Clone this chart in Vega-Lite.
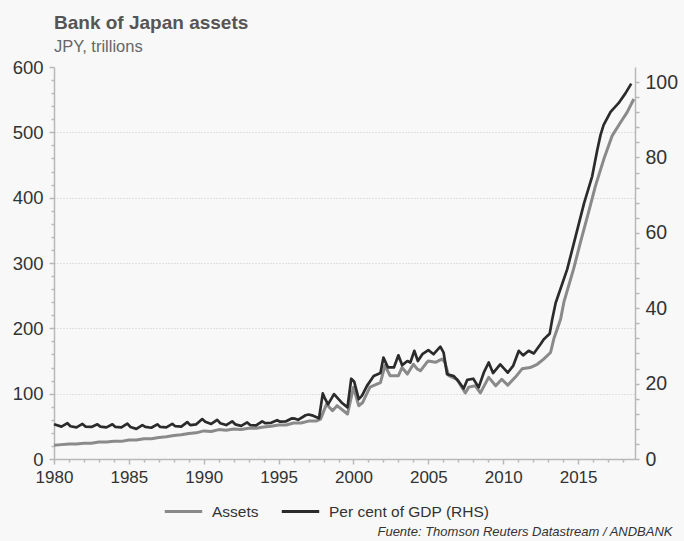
{
  "$schema": "https://vega.github.io/schema/vega-lite/v6.json",
  "width": 581,
  "height": 392,
  "autosize": {"type": "none"},
  "padding": {"left": 54, "top": 67, "right": 49, "bottom": 82},
  "background": "#f8f8f8",
  "title": {
    "text": "Bank of Japan assets",
    "subtitle": "JPY, trillions",
    "anchor": "start",
    "frame": "group",
    "offset": 3
  },
  "datasets": {
    "assets": [
      {"t": 1980.0, "v": 21}, {"t": 1980.5, "v": 22}, {"t": 1981.0, "v": 23}, {"t": 1981.5, "v": 23},
      {"t": 1982.0, "v": 24}, {"t": 1982.5, "v": 24}, {"t": 1983.0, "v": 26}, {"t": 1983.5, "v": 26},
      {"t": 1984.0, "v": 27}, {"t": 1984.5, "v": 27}, {"t": 1985.0, "v": 29}, {"t": 1985.5, "v": 29},
      {"t": 1986.0, "v": 31}, {"t": 1986.5, "v": 31}, {"t": 1987.0, "v": 33}, {"t": 1987.5, "v": 34},
      {"t": 1988.0, "v": 36}, {"t": 1988.5, "v": 37}, {"t": 1989.0, "v": 39}, {"t": 1989.5, "v": 40},
      {"t": 1990.0, "v": 43}, {"t": 1990.5, "v": 42}, {"t": 1991.0, "v": 45}, {"t": 1991.5, "v": 44},
      {"t": 1992.0, "v": 46}, {"t": 1992.5, "v": 45}, {"t": 1993.0, "v": 47}, {"t": 1993.5, "v": 47},
      {"t": 1994.0, "v": 49}, {"t": 1994.5, "v": 50}, {"t": 1995.0, "v": 52}, {"t": 1995.5, "v": 52},
      {"t": 1996.0, "v": 55}, {"t": 1996.5, "v": 55}, {"t": 1997.0, "v": 58}, {"t": 1997.5, "v": 58},
      {"t": 1997.8, "v": 61}, {"t": 1998.2, "v": 84}, {"t": 1998.6, "v": 74}, {"t": 1998.9, "v": 81.6},
      {"t": 1999.6, "v": 68.9}, {"t": 2000.0, "v": 109.7}, {"t": 2000.35, "v": 81.6}, {"t": 2000.6, "v": 86},
      {"t": 2001.1, "v": 110}, {"t": 2001.8, "v": 117}, {"t": 2002.1, "v": 143}, {"t": 2002.45, "v": 127.5},
      {"t": 2003.0, "v": 127.5}, {"t": 2003.24, "v": 140}, {"t": 2003.6, "v": 130}, {"t": 2004.0, "v": 145},
      {"t": 2004.25, "v": 138}, {"t": 2004.47, "v": 135}, {"t": 2004.9, "v": 148}, {"t": 2005.0, "v": 150},
      {"t": 2005.47, "v": 148}, {"t": 2005.9, "v": 153}, {"t": 2006.1, "v": 148}, {"t": 2006.36, "v": 127.5},
      {"t": 2006.9, "v": 122}, {"t": 2007.47, "v": 101}, {"t": 2007.7, "v": 110}, {"t": 2008.14, "v": 112},
      {"t": 2008.47, "v": 101}, {"t": 2009.03, "v": 125}, {"t": 2009.5, "v": 112}, {"t": 2009.9, "v": 122},
      {"t": 2010.3, "v": 113}, {"t": 2010.8, "v": 125}, {"t": 2011.26, "v": 138}, {"t": 2011.8, "v": 140},
      {"t": 2012.27, "v": 145}, {"t": 2012.7, "v": 153}, {"t": 2013.16, "v": 163}, {"t": 2013.38, "v": 184},
      {"t": 2013.83, "v": 214}, {"t": 2014.05, "v": 240}, {"t": 2014.7, "v": 291}, {"t": 2015.16, "v": 332},
      {"t": 2015.7, "v": 378}, {"t": 2016.16, "v": 418}, {"t": 2016.72, "v": 459}, {"t": 2017.28, "v": 495},
      {"t": 2017.83, "v": 515}, {"t": 2018.28, "v": 531}, {"t": 2018.72, "v": 551}
    ],
    "gdp": [
      {"t": 1980.0, "p": 9.2}, {"t": 1980.5, "p": 8.6}, {"t": 1980.9, "p": 9.5}, {"t": 1981.1, "p": 8.7},
      {"t": 1981.5, "p": 8.4}, {"t": 1981.9, "p": 9.3}, {"t": 1982.1, "p": 8.6}, {"t": 1982.5, "p": 8.5},
      {"t": 1982.9, "p": 9.2}, {"t": 1983.1, "p": 8.6}, {"t": 1983.5, "p": 8.4}, {"t": 1983.9, "p": 9.2},
      {"t": 1984.1, "p": 8.5}, {"t": 1984.5, "p": 8.4}, {"t": 1984.9, "p": 9.4}, {"t": 1985.1, "p": 8.5},
      {"t": 1985.5, "p": 8.0}, {"t": 1985.9, "p": 9.0}, {"t": 1986.1, "p": 8.5}, {"t": 1986.5, "p": 8.3},
      {"t": 1986.9, "p": 9.2}, {"t": 1987.1, "p": 8.5}, {"t": 1987.5, "p": 8.4}, {"t": 1987.9, "p": 9.3},
      {"t": 1988.1, "p": 8.7}, {"t": 1988.5, "p": 8.6}, {"t": 1988.9, "p": 9.8}, {"t": 1989.1, "p": 9.0},
      {"t": 1989.5, "p": 9.2}, {"t": 1989.9, "p": 10.6}, {"t": 1990.1, "p": 9.9}, {"t": 1990.5, "p": 9.3},
      {"t": 1990.9, "p": 10.4}, {"t": 1991.1, "p": 9.5}, {"t": 1991.5, "p": 9.0}, {"t": 1991.9, "p": 10.0},
      {"t": 1992.1, "p": 9.2}, {"t": 1992.5, "p": 8.8}, {"t": 1992.9, "p": 9.7}, {"t": 1993.1, "p": 9.0},
      {"t": 1993.5, "p": 8.9}, {"t": 1993.9, "p": 10.0}, {"t": 1994.1, "p": 9.5}, {"t": 1994.5, "p": 9.6},
      {"t": 1994.9, "p": 10.3}, {"t": 1995.1, "p": 9.9}, {"t": 1995.5, "p": 10.0}, {"t": 1995.9, "p": 10.8},
      {"t": 1996.1, "p": 10.7}, {"t": 1996.3, "p": 10.4}, {"t": 1996.8, "p": 11.6}, {"t": 1997.0, "p": 11.8},
      {"t": 1997.3, "p": 11.5}, {"t": 1997.7, "p": 10.8}, {"t": 1997.95, "p": 17.4}, {"t": 1998.1, "p": 16.0},
      {"t": 1998.3, "p": 14.5}, {"t": 1998.7, "p": 17.2}, {"t": 1999.2, "p": 15.0}, {"t": 1999.6, "p": 13.7},
      {"t": 1999.85, "p": 21.3}, {"t": 2000.05, "p": 20.5}, {"t": 2000.35, "p": 15.9}, {"t": 2000.57, "p": 16.8},
      {"t": 2000.9, "p": 19.4}, {"t": 2001.35, "p": 22.0}, {"t": 2001.8, "p": 22.8}, {"t": 2002.0, "p": 26.9},
      {"t": 2002.3, "p": 24.3}, {"t": 2002.7, "p": 24.3}, {"t": 2003.0, "p": 27.5}, {"t": 2003.25, "p": 24.9},
      {"t": 2003.6, "p": 26.0}, {"t": 2003.8, "p": 25.6}, {"t": 2004.06, "p": 28.7}, {"t": 2004.3, "p": 26.0},
      {"t": 2004.6, "p": 27.8}, {"t": 2005.0, "p": 28.9}, {"t": 2005.35, "p": 27.8}, {"t": 2005.8, "p": 29.8},
      {"t": 2006.02, "p": 28.2}, {"t": 2006.25, "p": 22.5}, {"t": 2006.7, "p": 22.0}, {"t": 2007.0, "p": 20.7},
      {"t": 2007.36, "p": 18.7}, {"t": 2007.6, "p": 21.0}, {"t": 2008.0, "p": 21.3}, {"t": 2008.36, "p": 19.0},
      {"t": 2008.7, "p": 22.9}, {"t": 2009.03, "p": 25.6}, {"t": 2009.32, "p": 22.8}, {"t": 2009.8, "p": 25.1},
      {"t": 2010.3, "p": 22.9}, {"t": 2010.66, "p": 24.7}, {"t": 2011.04, "p": 28.7}, {"t": 2011.33, "p": 27.5},
      {"t": 2011.7, "p": 28.7}, {"t": 2012.04, "p": 28.0}, {"t": 2012.5, "p": 30.5}, {"t": 2012.7, "p": 31.7},
      {"t": 2012.93, "p": 32.6}, {"t": 2013.1, "p": 33.2}, {"t": 2013.27, "p": 37.0}, {"t": 2013.5, "p": 41.4},
      {"t": 2014.27, "p": 50.3}, {"t": 2014.83, "p": 59.0}, {"t": 2015.4, "p": 67.9}, {"t": 2015.94, "p": 75.0},
      {"t": 2016.28, "p": 82.0}, {"t": 2016.5, "p": 86.0}, {"t": 2016.7, "p": 88.6}, {"t": 2017.17, "p": 92.1},
      {"t": 2017.7, "p": 94.4}, {"t": 2018.16, "p": 97.0}, {"t": 2018.55, "p": 99.6}
    ]
  },
  "encoding": {
    "x": {
      "field": "t", "type": "quantitative",
      "scale": {"domain": [1980, 2018.8], "nice": false, "zero": false},
      "axis": {
        "title": "Fuente: Thomson Reuters Datastream / ANDBANK",
        "titleFontStyle": "italic", "titleFontWeight": "normal", "titleFontSize": 13,
        "titleColor": "#333333", "titleAlign": "right", "titleAnchor": "end",
        "titleX": 618, "titleY": 76, "titleBaseline": "alphabetic",
        "values": [1980,1981,1982,1983,1984,1985,1986,1987,1988,1989,1990,1991,1992,1993,1994,1995,1996,1997,1998,1999,2000,2001,2002,2003,2004,2005,2006,2007,2008,2009,2010,2011,2012,2013,2014,2015,2016,2017,2018],
        "labelExpr": "datum.value % 5 === 0 ? format(datum.value, 'd') : ''",
        "labelOverlap": false,
        "labelFlush": false,
        "labelPadding": 5,
        "labelFontSize": 17,
        "tickSize": {"condition": {"test": "datum.value % 5 === 0", "value": 5}, "value": 3},
        "grid": false
      }
    }
  },
  "layer": [
    {
      "data": {"name": "assets"},
      "mark": {"type": "line", "strokeWidth": 3, "strokeJoin": "round"},
      "encoding": {
        "y": {
          "field": "v", "type": "quantitative",
          "scale": {"domain": [0, 600], "nice": false},
          "axis": {
            "title": null,
            "values": [0,20,40,60,80,100,120,140,160,180,200,220,240,260,280,300,320,340,360,380,400,420,440,460,480,500,520,540,560,580,600],
            "labelExpr": "datum.value % 100 === 0 ? datum.label : ''",
            "labelOverlap": false,
            "labelPadding": 6,
            "tickSize": {"condition": {"test": "datum.value % 100 === 0", "value": 5}, "value": 3},
            "grid": true,
            "gridColor": "#c8c8c8",
            "gridDash": [1, 2],
            "gridWidth": 1,
            "gridOpacity": {"condition": {"test": "datum.value % 100 === 0 && datum.value > 0 && datum.value < 600", "value": 1}, "value": 0}
          }
        },
        "color": {
          "datum": "Assets",
          "type": "nominal",
          "scale": {"domain": ["Assets", "Per cent of GDP (RHS)"], "range": ["#8a8a8a", "#2b2b2b"]},
          "legend": {
            "title": null,
            "orient": "none",
            "direction": "horizontal",
            "legendX": 109,
            "legendY": 424,
            "symbolType": "stroke",
            "symbolSize": 1400,
            "symbolStrokeWidth": 3,
            "labelFontSize": 15.5,
            "labelColor": "#333333",
            "labelFont": "Liberation Sans",
            "labelOffset": 8,
            "labelLimit": 400,
            "columnPadding": 16
          }
        }
      }
    },
    {
      "data": {"name": "gdp"},
      "mark": {"type": "line", "strokeWidth": 2.7, "strokeJoin": "round"},
      "encoding": {
        "y": {
          "field": "p", "type": "quantitative",
          "scale": {"domain": [0, 104], "nice": false},
          "axis": {
            "title": null,
            "orient": "right",
            "values": [0,4,8,12,16,20,24,28,32,36,40,44,48,52,56,60,64,68,72,76,80,84,88,92,96,100],
            "labelExpr": "datum.value % 20 === 0 ? datum.label : ''",
            "labelOverlap": false,
            "labelPadding": 6,
            "labelFontSize": 19.5,
            "tickSize": 4,
            "grid": false
          }
        },
        "color": {"datum": "Per cent of GDP (RHS)", "type": "nominal"}
      }
    }
  ],
  "resolve": {"scale": {"y": "independent"}},
  "config": {
    "font": "Liberation Sans",
    "view": {"stroke": null},
    "title": {
      "font": "Liberation Sans",
      "fontSize": 19,
      "fontWeight": "bold",
      "color": "#555555",
      "subtitleFont": "Liberation Sans",
      "subtitleFontSize": 16.5,
      "subtitleColor": "#666666",
      "subtitlePadding": 6
    },
    "axis": {
      "labelFont": "Liberation Sans",
      "labelFontSize": 18.5,
      "labelColor": "#333333",
      "domainColor": "#b8b8b8",
      "domainWidth": 1.5,
      "tickColor": "#b8b8b8",
      "tickWidth": 1.5
    },
    "axisX": {"labelOverlap": false}
  }
}
